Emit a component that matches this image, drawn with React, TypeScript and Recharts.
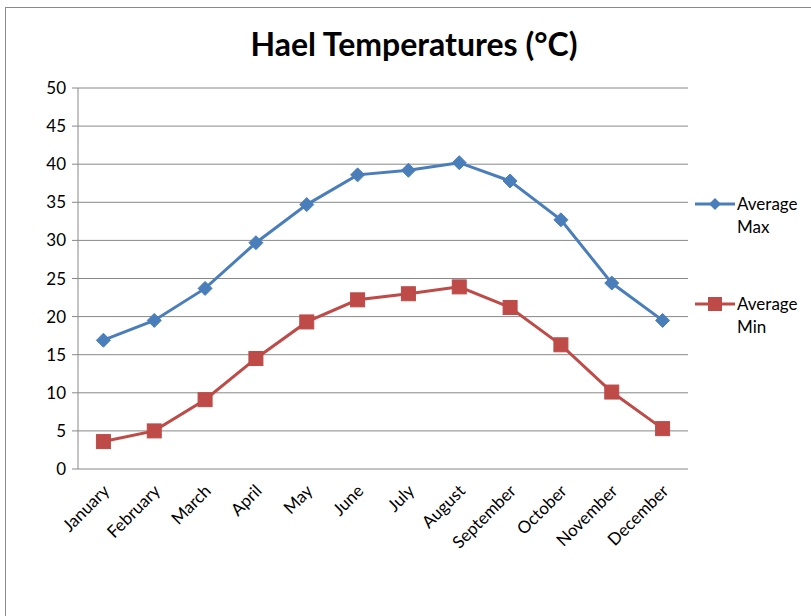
import React from "react";
import { LineChart, Line, XAxis, YAxis, CartesianGrid, Legend } from "recharts";

const months = ["January","February","March","April","May","June","July","August","September","October","November","December"];
const avgMax = [16.9, 19.5, 23.7, 29.7, 34.7, 38.6, 39.2, 40.2, 37.8, 32.7, 24.4, 19.5];
const avgMin = [3.6, 5.0, 9.1, 14.5, 19.3, 22.2, 23.0, 23.9, 21.2, 16.3, 10.1, 5.3];
const yTicks = [0, 5, 10, 15, 20, 25, 30, 35, 40, 45, 50];
const boundaryTicks = [0, 1, 2, 3, 4, 5, 6, 7, 8, 9, 10, 11, 12];

const data = months.map((m, i) => ({ month: m, max: avgMax[i], min: avgMin[i] }));

const BLUE = "#4A7EBB";
const RED = "#BE4B48";
const GRID = "#888888";
const FONT = "Lato, 'Open Sans', sans-serif";

const Diamond = (props: any) => {
  const { cx, cy } = props;
  if (cx == null || cy == null) return null;
  const r = 7;
  return <polygon points={`${cx},${cy - r} ${cx + r},${cy} ${cx},${cy + r} ${cx - r},${cy}`} fill={BLUE} stroke={BLUE} strokeWidth={1} />;
};

const Square = (props: any) => {
  const { cx, cy } = props;
  if (cx == null || cy == null) return null;
  const s = 14;
  return <rect x={cx - s / 2} y={cy - s / 2} width={s} height={s} fill={RED} stroke={RED} strokeWidth={1} />;
};

const MonthTick = (props: any) => {
  const { x, y, payload } = props;
  const ax = x + 7;
  const ay = y + 15;
  return (
    <text x={ax} y={ay} transform={`rotate(-45, ${ax}, ${ay})`} textAnchor="end" fontSize={17} fill="#000" fontFamily={FONT}>
      {payload.value}
    </text>
  );
};

const LegendContent = () => {
  const items = [
    { l1: "Average", l2: "Max", color: BLUE, kind: "d" },
    { l1: "Average", l2: "Min", color: RED, kind: "s" },
  ];
  return (
    <div style={{ fontFamily: FONT, fontSize: 17, color: "#000" }}>
      {items.map((it, i) => (
        <div key={i} style={{ display: "flex", alignItems: "flex-start", height: i === 0 ? 100 : 50 }}>
          <svg width={42} height={20}>
            <line x1={0} y1={10} x2={40} y2={10} stroke={it.color} strokeWidth={3} />
            {it.kind === "d" ? (
              <polygon points="20,4 26,10 20,16 14,10" fill={it.color} />
            ) : (
              <rect x={13} y={3} width={14} height={14} fill={it.color} />
            )}
          </svg>
          <div style={{ lineHeight: "23px", marginTop: -2 }}>
            <div>{it.l1}</div>
            <div>{it.l2}</div>
          </div>
        </div>
      ))}
    </div>
  );
};

export default function App() {
  return (
    <div style={{ position: "absolute", left: 0, top: 0, width: 811, height: 616, overflow: "hidden", background: "#fff" }}>
      <div style={{ position: "absolute", left: 5, top: 7, width: 900, height: 700, border: "1px solid #8a8a8a", boxSizing: "border-box" }} />
      <div style={{ position: "absolute", left: 0, top: 24, width: 828, textAlign: "center", fontFamily: FONT, fontWeight: 700, fontSize: 32, color: "#000" }}>
        Hael Temperatures (°C)
      </div>
      <div style={{ position: "absolute", left: 0, top: 0 }}>
        <LineChart width={811} height={616} data={data} margin={{ top: 88, right: 7, bottom: 69, left: 28 }}>
          <CartesianGrid horizontal={true} vertical={false} stroke={GRID} strokeWidth={1} xAxisId="cat" />
          <XAxis xAxisId="b" type="number" domain={[0, 12]} ticks={boundaryTicks} height={0} tick={false} tickLine={{ stroke: GRID }} tickSize={5} axisLine={{ stroke: GRID }} allowDataOverflow />
          <XAxis xAxisId="cat" dataKey="month" type="category" scale="band" height={78} tick={<MonthTick />} tickLine={false} axisLine={false} interval={0} />
          <YAxis domain={[0, 50]} ticks={yTicks} width={50} tickSize={6} tickLine={{ stroke: GRID }} axisLine={{ stroke: GRID }} tick={{ fontSize: 17, fill: "#000", fontFamily: FONT }} tickMargin={6} interval={0} />
          <Legend layout="vertical" verticalAlign="top" align="right" content={<LegendContent />} wrapperStyle={{ left: 695, top: 194, width: 116 }} />
          <Line xAxisId="cat" type="linear" dataKey="max" name="Average Max" stroke={BLUE} strokeWidth={3} dot={<Diamond />} activeDot={false} isAnimationActive={false} />
          <Line xAxisId="cat" type="linear" dataKey="min" name="Average Min" stroke={RED} strokeWidth={3} dot={<Square />} activeDot={false} isAnimationActive={false} />
        </LineChart>
      </div>
    </div>
  );
}
